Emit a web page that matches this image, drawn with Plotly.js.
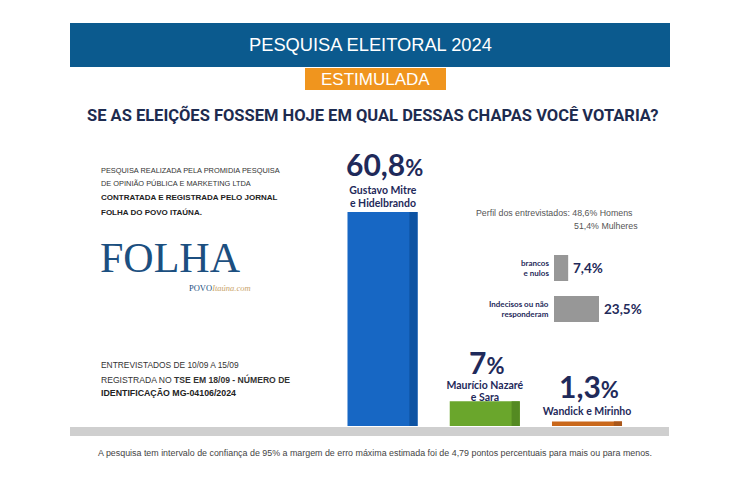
<!DOCTYPE html>
<html>
<head>
<meta charset="utf-8">
<script src="https://cdn.plot.ly/plotly-3.0.1.min.js"></script>
<style>html,body{margin:0;padding:0;background:#fff;}#chart{width:750px;height:499px;}</style>
</head>
<body>
<div id="chart"></div>
<script>
// ---- data ----
const candidates = ["Gustavo Mitre e Hidelbrando", "Maurício Nazaré e Sara", "Wandick e Mirinho"];
const candidateLabels = ["Gustavo Mitre<br>e Hidelbrando", "Maurício Nazaré<br>e Sara", "Wandick e Mirinho"];
const votes = [60.8, 7.0, 1.3];
const voteLabels = ["60,8", "7", "1,3"];
const otherCategories = ["brancos e nulos", "Indecisos ou não responderam"];
const otherLabels = ["brancos<br>e nulos", "Indecisos ou não<br>responderam"];
const otherValues = [7.4, 23.5];
const otherValueLabels = ["7,4%", "23,5%"];

// ---- styling ----
const W = 750, H = 499;
const fx = x => x / W, fy = y => 1 - y / H;
const barColors = ["#1767c4", "#6aa62c", "#c9671a"];
const sideColors = ["#0d53a3", "#548a22", "#a8561a"];
const navy = "#1f2a5a";
const sans = "Liberation Sans, Arial, sans-serif";
const cond = "Roboto, Liberation Sans, sans-serif";
const bold = "Lato, Open Sans, sans-serif";

const traces = [
  {type: "bar", x: candidates, y: votes, width: 0.685, marker: {color: barColors}, hoverinfo: "skip", xaxis: "x", yaxis: "y"},
  {type: "bar", x: candidates, y: votes, width: 0.08, offset: 0.2625, marker: {color: sideColors}, hoverinfo: "skip", xaxis: "x", yaxis: "y"},
  {type: "bar", orientation: "h", y: otherCategories, x: otherValues, width: 0.634, marker: {color: "#979797"}, hoverinfo: "skip", xaxis: "x2", yaxis: "y2"}
];

const annotations = [];
const valShift = [48, 39, 35];
const lastLineShift = [9, 4.5, 10];
const lineGap = [13, 11.5, 12];
candidates.forEach((c, i) => {
  annotations.push({xref: "x", yref: "y", x: c, y: votes[i], yanchor: "middle", yshift: valShift[i], xshift: 2, showarrow: false,
    text: "<b>" + voteLabels[i] + "<span style='font-size:22px'>%</span></b>", font: {family: bold, size: 30, color: navy}});
  const lines = candidateLabels[i].split("<br>");
  lines.forEach((ln, j) => {
    annotations.push({xref: "x", yref: "y", x: c, y: votes[i], xanchor: "center", yanchor: "middle", width: 120, align: "center",
      yshift: lastLineShift[i] + (lines.length - 1 - j) * lineGap[i], showarrow: false,
      text: "<b>" + ln + "</b>", font: {family: bold, size: 10.5, color: navy}});
  });
});
otherCategories.forEach((c, i) => {
  annotations.push({xref: "x2", yref: "y2", x: 0, y: c, xanchor: "right", xshift: -3, showarrow: false, align: "right",
    text: "<b>" + otherLabels[i] + "</b>", font: {family: bold, size: 8, color: navy}});
  annotations.push({xref: "x2", yref: "y2", x: otherValues[i], y: c, xanchor: "left", xshift: 3, showarrow: false,
    text: "<b>" + otherValueLabels[i] + "</b>", font: {family: bold, size: 13.5, color: navy}});
});

function txt(text, x, y, size, color, family, xanchor) {
  annotations.push({xref: "paper", yref: "paper", x: fx(x), y: fy(y), xanchor: xanchor || "left", yanchor: "middle",
    showarrow: false, text: text, font: {family: family || sans, size: size, color: color}});
}
txt("PESQUISA ELEITORAL 2024", 370, 45, 18.3, "#ffffff", sans, "center");
txt("ESTIMULADA", 375.5, 79, 17, "#ffffff", sans, "center");
txt("<b>SE AS ELEIÇÕES FOSSEM HOJE EM QUAL DESSAS CHAPAS VOCÊ VOTARIA?</b>", 373, 115, 16.5, "#1d2b4f", cond, "center");
txt("PESQUISA REALIZADA PELA PROMIDIA PESQUISA", 99, 170, 7.4, "#333333");
txt("DE OPINIÃO PÚBLICA E MARKETING LTDA", 99, 184, 7.4, "#333333");
txt("<b>CONTRATADA E REGISTRADA PELO JORNAL</b>", 99, 198, 8.0, "#222222");
txt("<b>FOLHA DO POVO ITAÚNA.</b>", 99, 212, 8.0, "#222222");
txt("FOLHA", 98, 258, 42, "#1c4f80", "Liberation Serif, serif");
txt("POVO<i><span style='color:#c9a46a'>Itaúna.com</span></i>", 187, 288, 8.5, "#1c4f80", "Liberation Serif, serif");
txt("ENTREVISTADOS DE 10/09 A 15/09", 99, 365, 8.4, "#333333");
txt("REGISTRADA NO <b>TSE EM 18/09 - NÚMERO DE</b>", 99, 379, 8.6, "#333333");
txt("<b>IDENTIFICAÇÃO MG-04106/2024</b>", 99, 393, 8.8, "#222222");
txt("Perfil dos entrevistados: 48,6% Homens", 635, 213, 8.8, "#555555", sans, "right");
txt("51,4% Mulheres", 640, 226, 8.8, "#555555", sans, "right");
txt("A pesquisa tem intervalo de confiança de 95% a margem de erro máxima estimada foi de 4,79 pontos percentuais para mais ou para menos.", 375, 453, 8.9, "#444444", sans, "center");

const shapes = [
  {type: "rect", xref: "paper", yref: "paper", x0: fx(70), x1: fx(670), y0: fy(67), y1: fy(23), fillcolor: "#0b5a8e", line: {width: 0}, layer: "below"},
  {type: "rect", xref: "paper", yref: "paper", x0: fx(305), x1: fx(446), y0: fy(90), y1: fy(68), fillcolor: "#f0951e", line: {width: 0}, layer: "below"},
  {type: "rect", xref: "paper", yref: "paper", x0: fx(70), x1: fx(669), y0: fy(436), y1: fy(427), fillcolor: "#cfcfcf", line: {width: 0}, layer: "below"}
];

const hidden = {visible: false, showgrid: false, zeroline: false, fixedrange: true};
const layout = {
  width: W, height: H, margin: {l: 0, r: 0, t: 0, b: 0},
  paper_bgcolor: "#ffffff", plot_bgcolor: "rgba(0,0,0,0)",
  showlegend: false, barmode: "overlay",
  xaxis: Object.assign({domain: [0, 1], range: [-3.741, 3.594], type: "category", anchor: "y"}, hidden),
  yaxis: Object.assign({domain: [0, 1], range: [-20.74, 121.02], anchor: "x"}, hidden),
  xaxis2: Object.assign({domain: [554 / W, 1], range: [0, (W - 554) / 1.915], anchor: "y2"}, hidden),
  yaxis2: Object.assign({domain: [0, 1], range: [5.634, -6.537], type: "category", anchor: "x2"}, hidden),
  annotations: annotations, shapes: shapes
};
Plotly.newPlot("chart", traces, layout, {displayModeBar: false, staticPlot: true});
</script>
</body>
</html>
